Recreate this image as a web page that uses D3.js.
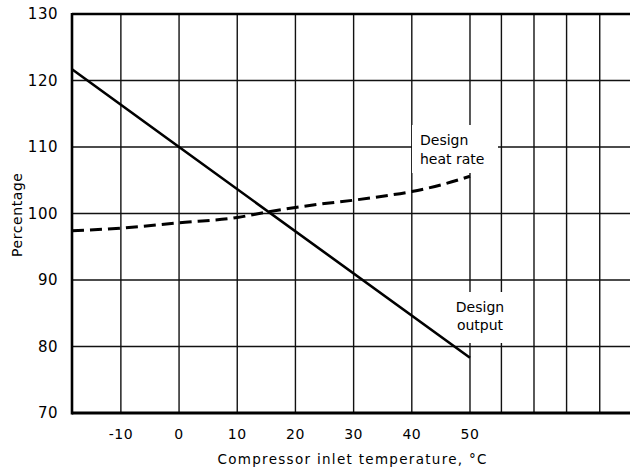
<!DOCTYPE html>
<html><head><meta charset="utf-8">
<script src="https://cdn.jsdelivr.net/npm/d3@7"></script>
<style>body{margin:0;background:#fff}svg{display:block}text{font-family:"DejaVu Sans",sans-serif;fill:#000}</style>
</head><body>
<svg id="c" width="630" height="469"></svg>
<script>
// Data
const xTicks = [-10, 0, 10, 20, 30, 40, 50];
const xExtraGrid = [55.4, 61.0, 66.6, 72.3];
const yTicks = [70, 80, 90, 100, 110, 120, 130];
const outputX = [-18.4, 0, 50];
const outputY = [121.7, 110, 78.3];
const heatX = [-18.4, -10, 0, 10, 15, 20, 25, 30, 35, 40, 45, 50];
const heatY = [97.4, 97.8, 98.6, 99.4, 100.2, 100.9, 101.5, 102.0, 102.6, 103.3, 104.3, 105.6];

const svg = d3.select("#c");
const x = d3.scaleLinear().domain([-18.4, 77.5]).range([72, 630]);
const y = d3.scaleLinear().domain([70, 130]).range([413, 14]);

// grid
const g = svg.append("g").attr("stroke", "#111").attr("stroke-width", 1.4);
xTicks.concat(xExtraGrid).forEach(v => {
  g.append("line").attr("x1", x(v)).attr("x2", x(v)).attr("y1", y(130)).attr("y2", y(70));
});
yTicks.forEach(v => {
  g.append("line").attr("x1", x(-18.4)).attr("x2", 630).attr("y1", y(v)).attr("y2", y(v));
});

// frame
svg.append("line").attr("x1", x(-18.4)).attr("x2", x(-18.4)).attr("y1", y(130)-1).attr("y2", y(70)+1.5).attr("stroke", "#000").attr("stroke-width", 2.6);
svg.append("line").attr("x1", x(-18.4)).attr("x2", 630).attr("y1", y(130)).attr("y2", y(130)).attr("stroke", "#000").attr("stroke-width", 2.4);
svg.append("line").attr("x1", x(-18.4)).attr("x2", 630).attr("y1", y(70)).attr("y2", y(70)).attr("stroke", "#000").attr("stroke-width", 3);

// label backgrounds (gaps in grid)
svg.append("rect").attr("x", 412).attr("y", 125).attr("width", 86).attr("height", 48).attr("fill", "#fff");
svg.append("rect").attr("x", 451).attr("y", 292).attr("width", 57).attr("height", 51).attr("fill", "#fff");

// series
const line = d3.line().x(d => x(d[0])).y(d => y(d[1]));
svg.append("path").datum(outputX.map((v, i) => [v, outputY[i]]))
  .attr("d", line).attr("fill", "none").attr("stroke", "#000").attr("stroke-width", 2.6);
svg.append("path").datum(heatX.map((v, i) => [v, heatY[i]]))
  .attr("d", d3.line().curve(d3.curveMonotoneX).x(d => x(d[0])).y(d => y(d[1])))
  .attr("fill", "none").attr("stroke", "#000").attr("stroke-width", 3).attr("stroke-dasharray", "12,6");

// tick labels
yTicks.forEach(v => {
  svg.append("text").attr("x", 58).attr("y", y(v)).attr("dy", "0.36em").attr("text-anchor", "end")
    .attr("font-size", 15).attr("letter-spacing", 0.5).text(v);
});
xTicks.forEach(v => {
  svg.append("text").attr("x", x(v)).attr("y", 439).attr("text-anchor", "middle")
    .attr("font-size", 14).attr("letter-spacing", 0.5).text(v);
});

// axis titles
svg.append("text").attr("x", 352).attr("y", 464).attr("text-anchor", "middle").attr("font-size", 13.5)
  .attr("textLength", 269).attr("lengthAdjust", "spacing").text("Compressor inlet temperature, °C");
svg.append("text").attr("transform", "translate(22,215) rotate(-90)").attr("text-anchor", "middle")
  .attr("font-size", 14).attr("textLength", 84).attr("lengthAdjust", "spacing").text("Percentage");

// annotations
svg.append("text").attr("x", 420).attr("y", 145).attr("font-size", 14).text("Design");
svg.append("text").attr("x", 420).attr("y", 164).attr("font-size", 14).text("heat rate");
svg.append("text").attr("x", 480).attr("y", 312).attr("text-anchor", "middle").attr("font-size", 14).text("Design");
svg.append("text").attr("x", 480).attr("y", 330).attr("text-anchor", "middle").attr("font-size", 14).text("output");
</script>
</body></html>
